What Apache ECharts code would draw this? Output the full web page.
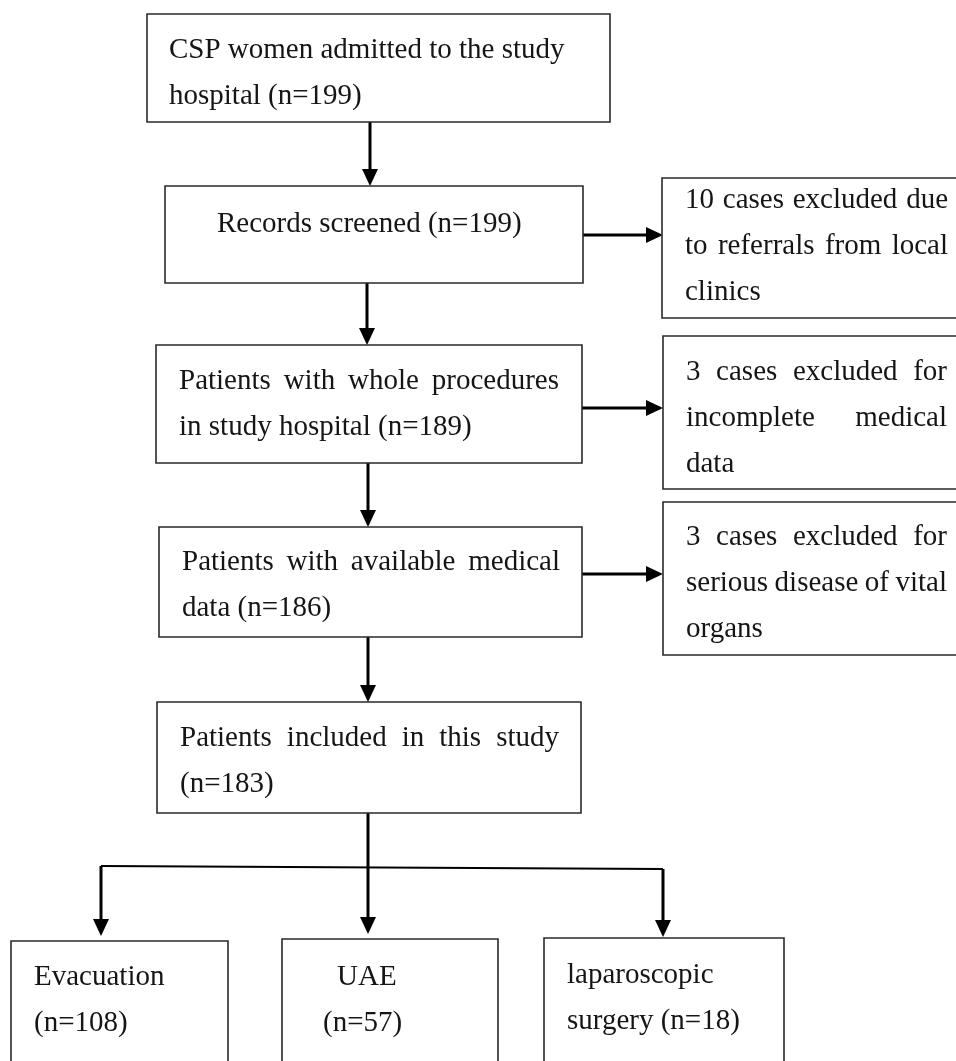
<!DOCTYPE html>
<html>
<head>
<meta charset="utf-8">
<script src="https://cdn.jsdelivr.net/npm/echarts@6/dist/echarts.min.js"></script>
<style>
html, body { margin: 0; padding: 0; background: #fff; }
#main { width: 956px; height: 1061px; }
</style>
</head>
<body>
<div id="main"></div>
<script>
// flow steps and their counts
var steps = ['CSP women admitted to the study hospital', 'Records screened',
    'Patients with whole procedures in study hospital', 'Patients with available medical data',
    'Patients included in this study'];
var stepN = [199, 199, 189, 186, 183];
// exclusions at each step
var excludedN = [10, 3, 3];
var excludedWhy = ['due to referrals from local clinics', 'for incomplete medical data',
    'for serious disease of vital organs'];
// treatment groups
var groups = ['Evacuation', 'UAE', 'laparoscopic surgery'];
var groupN = [108, 57, 18];

var labels = [];
steps.forEach(function (s, i) { labels.push(s + ' (n=' + stepN[i] + ')'); });
excludedN.forEach(function (n, i) { labels.push(n + ' cases excluded ' + excludedWhy[i]); });
groups.forEach(function (g, i) { labels.push(g + ' (n=' + groupN[i] + ')'); });

var FONT = '29px "Liberation Serif", "Times New Roman", serif';
var LH = 46;

// box layout: rect [x0, y0, x1, y1], text x, first line y, text width, justified
var boxes = [
    {r: [147, 14, 610, 122], tx: 169, ty: 50, w: 430, just: false},
    {r: [165, 186, 583, 283], tx: 217, ty: 224, w: 340, just: false},
    {r: [156, 345, 582, 463], tx: 179, ty: 381, w: 380, just: true},
    {r: [159, 527, 582, 637], tx: 182, ty: 562, w: 378, just: true},
    {r: [157, 702, 581, 813], tx: 180, ty: 738, w: 379, just: true},
    {r: [662, 178, 958, 318], tx: 685, ty: 200, w: 263, just: true},
    {r: [663, 336, 958, 489], tx: 686, ty: 372, w: 261, just: true},
    {r: [663, 502, 958, 655], tx: 686, ty: 537, w: 261, just: true},
    {r: [11, 941, 228, 1080], tx: 34, ty: 977, w: 180, just: false},
    {r: [282, 939, 498, 1080], tx: 323, ty: 977, w: 100, just: false, indent: 14},
    {r: [544, 938, 784, 1080], tx: 567, ty: 975, w: 200, just: false}
];

// connectors: polyline points, arrow at end or not, line width
var links = [
    {p: [[370, 122], [370, 186]], arrow: true, lw: 3},
    {p: [[367, 283], [367, 345]], arrow: true, lw: 3},
    {p: [[368, 463], [368, 527]], arrow: true, lw: 3},
    {p: [[368, 637], [368, 702]], arrow: true, lw: 3},
    {p: [[583, 235], [663, 235]], arrow: true, lw: 3},
    {p: [[582, 408], [663, 408]], arrow: true, lw: 3},
    {p: [[582, 574], [663, 574]], arrow: true, lw: 3},
    {p: [[368, 813], [368, 934]], arrow: true, lw: 3},
    {p: [[101, 866], [663, 869]], arrow: false, lw: 2.2},
    {p: [[101, 866], [101, 936]], arrow: true, lw: 3},
    {p: [[663, 869], [663, 937]], arrow: true, lw: 3}
];

var ctx = document.createElement('canvas').getContext('2d');
ctx.font = FONT;
function tw(s) { return ctx.measureText(s).width; }

function wrap(text, width) {
    var words = text.split(' ');
    var lines = [];
    var cur = '';
    words.forEach(function (w) {
        var t = cur ? cur + ' ' + w : w;
        if (cur && tw(t) > width + 4) {
            lines.push(cur);
            cur = w;
        } else {
            cur = t;
        }
    });
    if (cur) lines.push(cur);
    return lines;
}

function textEl(s, x, y) {
    return {
        type: 'text',
        style: {text: s, x: x, y: y, font: FONT, fill: '#151515', align: 'left', verticalAlign: 'middle'}
    };
}

function renderBox(params, api) {
    var i = api.value(0);
    var b = boxes[i];
    var a = api.coord([b.r[0], b.r[1]]);
    var c = api.coord([b.r[2], b.r[3]]);
    var children = [{
        type: 'rect',
        shape: {x: a[0], y: a[1], width: c[0] - a[0], height: c[1] - a[1]},
        style: {fill: '#fff', stroke: '#2a2a2a', lineWidth: 1.6}
    }];
    var lines = wrap(labels[i], b.w);
    lines.forEach(function (line, k) {
        var pos = api.coord([b.tx + (k === 0 ? (b.indent || 0) : 0), b.ty + k * LH]);
        if (b.just && k < lines.length - 1) {
            var words = line.split(' ');
            var sum = 0;
            words.forEach(function (w) { sum += tw(w); });
            var gap = (b.w - sum) / (words.length - 1);
            var x = pos[0];
            words.forEach(function (w) {
                children.push(textEl(w, x, pos[1]));
                x += tw(w) + gap;
            });
        } else {
            children.push(textEl(line, pos[0], pos[1]));
        }
    });
    return {type: 'group', children: children};
}

function renderLink(params, api) {
    var l = links[api.value(0)];
    var pts = l.p.map(function (q) { return api.coord(q); });
    var children = [];
    var end = pts[pts.length - 1];
    var prev = pts[pts.length - 2];
    var dx = end[0] - prev[0], dy = end[1] - prev[1];
    var len = Math.sqrt(dx * dx + dy * dy);
    var ux = dx / len, uy = dy / len;
    var line = pts.slice();
    if (l.arrow) {
        var hl = 17, hw = 8;
        var bx = end[0] - ux * hl, by = end[1] - uy * hl;
        line[line.length - 1] = [bx + ux * 2, by + uy * 2];
        children.push({
            type: 'polygon',
            shape: {points: [end, [bx - uy * hw, by + ux * hw], [bx + uy * hw, by - ux * hw]]},
            style: {fill: '#000'}
        });
    }
    children.unshift({
        type: 'polyline',
        shape: {points: line},
        style: {stroke: '#000', lineWidth: l.lw, fill: null}
    });
    return {type: 'group', children: children};
}

var chart = echarts.init(document.getElementById('main'));
var option = {
    backgroundColor: '#fff',
    animation: false,
    grid: {left: 0, right: 0, top: 0, bottom: 0},
    xAxis: {type: 'value', min: 0, max: 956, show: false},
    yAxis: {type: 'value', min: 0, max: 1061, inverse: true, show: false},
    series: [
        {
            type: 'custom',
            renderItem: renderLink,
            data: links.map(function (l, i) { return [i]; }),
            silent: true
        },
        {
            type: 'custom',
            renderItem: renderBox,
            data: boxes.map(function (b, i) { return [i]; }),
            silent: true
        }
    ]
};
chart.setOption(option);
window.addEventListener('resize', function () {
    chart.resize();
});
</script>
</body>
</html>
